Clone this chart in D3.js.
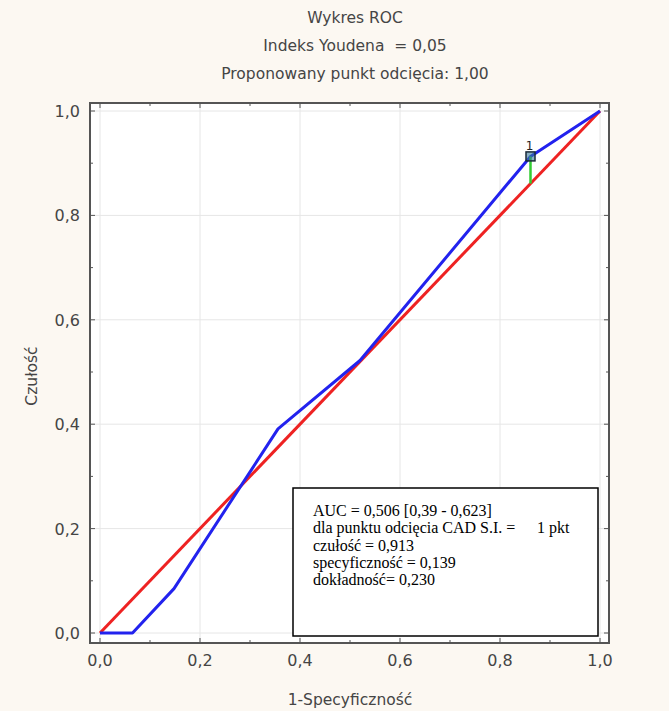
<!DOCTYPE html>
<html>
<head>
<meta charset="utf-8">
<script src="https://cdn.jsdelivr.net/npm/d3@7"></script>
<style>
  html, body { margin: 0; padding: 0; background: #fcf8f2; }
  svg { display: block; }
  svg text { white-space: pre; }
</style>
</head>
<body>
<svg id="chart" width="669" height="711"></svg>
<script>
// ROC curve points (1 - specificity, sensitivity)
const fpr = [0, 0.065, 0.148, 0.356, 0.52, 0.861, 1];
const tpr = [0, 0, 0.085, 0.391, 0.522, 0.913, 1];
// Reference diagonal
const diagX = [0, 1];
const diagY = [0, 1];
// Proposed cut-off point
const cutX = 0.861;
const cutY = 0.913;
const cutLabel = "1";
const tickValues = [0, 0.2, 0.4, 0.6, 0.8, 1.0];
const minorTicks = [0.1, 0.3, 0.5, 0.7, 0.9];
const titles = ["Wykres ROC", "Indeks Youdena  = 0,05", "Proponowany punkt odcięcia: 1,00"];
const statsLines = [
  "AUC = 0,506 [0,39 - 0,623]",
  "dla punktu odcięcia CAD S.I. =",
  "czułość = 0,913",
  "specyficzność = 0,139",
  "dokładność= 0,230"
];
const statsExtra = "1 pkt";

const svg = d3.select("#chart");
const fmt = d => d.toFixed(1).replace(".", ",");
const SANS = "DejaVu Sans, Verdana, sans-serif";
const SERIF = "Liberation Serif, Times New Roman, serif";
const LABEL = "#454545";

const x = d3.scaleLinear().domain([0, 1]).range([100, 600]);
const y = d3.scaleLinear().domain([0, 1]).range([633, 111]);
const frame = { x0: 90, x1: 609, y0: 103, y1: 643 };

// Titles
svg.selectAll("text.title").data(titles).join("text")
  .attr("class", "title")
  .attr("x", 355).attr("y", (d, i) => 23 + i * 28)
  .attr("text-anchor", "middle")
  .attr("font-family", SANS)
  .attr("font-size", 15.5).attr("fill", LABEL)
  .text(d => d);

// Plot area
svg.append("rect")
  .attr("x", frame.x0).attr("y", frame.y0)
  .attr("width", frame.x1 - frame.x0).attr("height", frame.y1 - frame.y0)
  .attr("fill", "#ffffff");

// Grid
const grid = svg.append("g").attr("stroke", "#e6e6e6").attr("stroke-width", 1);
grid.selectAll("line.v").data(tickValues).join("line")
  .attr("x1", d => x(d)).attr("x2", d => x(d))
  .attr("y1", frame.y0).attr("y2", frame.y1);
grid.selectAll("line.h").data(tickValues).join("line")
  .attr("y1", d => y(d)).attr("y2", d => y(d))
  .attr("x1", frame.x0).attr("x2", frame.x1);

// Frame
svg.append("rect")
  .attr("x", frame.x0).attr("y", frame.y0)
  .attr("width", frame.x1 - frame.x0).attr("height", frame.y1 - frame.y0)
  .attr("fill", "none").attr("stroke", "#555").attr("stroke-width", 2);

// Inward ticks on all four sides
const ticks = svg.append("g").attr("stroke", "#555");
[[tickValues, 5], [minorTicks, 3]].forEach(([vals, len]) => {
  ticks.append("g").selectAll("line").data(vals).join("line")
    .attr("x1", d => x(d)).attr("x2", d => x(d))
    .attr("y1", frame.y1).attr("y2", frame.y1 - len);
  ticks.append("g").selectAll("line").data(vals).join("line")
    .attr("x1", d => x(d)).attr("x2", d => x(d))
    .attr("y1", frame.y0).attr("y2", frame.y0 + len);
  ticks.append("g").selectAll("line").data(vals).join("line")
    .attr("y1", d => y(d)).attr("y2", d => y(d))
    .attr("x1", frame.x0).attr("x2", frame.x0 + len);
  ticks.append("g").selectAll("line").data(vals).join("line")
    .attr("y1", d => y(d)).attr("y2", d => y(d))
    .attr("x1", frame.x1).attr("x2", frame.x1 - len);
});

// Tick labels
svg.append("g").selectAll("text").data(tickValues).join("text")
  .attr("x", d => x(d)).attr("y", 666)
  .attr("text-anchor", "middle")
  .attr("font-family", SANS)
  .attr("font-size", 16).attr("fill", LABEL)
  .text(fmt);
svg.append("g").selectAll("text").data(tickValues).join("text")
  .attr("x", 80).attr("y", d => y(d) + 6)
  .attr("text-anchor", "end")
  .attr("font-family", SANS)
  .attr("font-size", 16).attr("fill", LABEL)
  .text(fmt);

// Axis titles
svg.append("text")
  .attr("x", 350).attr("y", 705)
  .attr("text-anchor", "middle")
  .attr("font-family", SANS)
  .attr("font-size", 15.5).attr("fill", LABEL)
  .text("1-Specyficzność");
svg.append("text")
  .attr("transform", "translate(37,376) rotate(-90)")
  .attr("text-anchor", "middle")
  .attr("font-family", SANS)
  .attr("font-size", 15.5).attr("fill", LABEL)
  .text("Czułość");

const line = d3.line().x(d => x(d[0])).y(d => y(d[1]));

// Diagonal reference line
svg.append("path")
  .datum(diagX.map((v, i) => [v, diagY[i]]))
  .attr("d", line).attr("fill", "none")
  .attr("stroke", "#ee2222").attr("stroke-width", 3);

// ROC curve
svg.append("path")
  .datum(fpr.map((v, i) => [v, tpr[i]]))
  .attr("d", line).attr("fill", "none")
  .attr("stroke", "#2222ee").attr("stroke-width", 3)
  .attr("stroke-linejoin", "round");

// Youden index segment from the cut-off point down to the diagonal
svg.append("line")
  .attr("x1", x(cutX)).attr("x2", x(cutX))
  .attr("y1", y(cutY)).attr("y2", y(cutX))
  .attr("stroke", "#33cc33").attr("stroke-width", 2.5);

// Cut-off marker and label
svg.append("rect")
  .attr("x", x(cutX) - 4.5).attr("y", y(cutY) - 4.5)
  .attr("width", 9).attr("height", 9)
  .attr("fill", "#3a7a9a").attr("fill-opacity", 0.6)
  .attr("stroke", "#1a2a3a").attr("stroke-width", 1.5);
svg.append("text")
  .attr("x", x(cutX) - 1).attr("y", y(cutY) - 6)
  .attr("text-anchor", "middle")
  .attr("font-family", SANS)
  .attr("font-size", 12).attr("fill", "#222")
  .text(cutLabel);

// Statistics box
svg.append("rect")
  .attr("x", 293).attr("y", 488).attr("width", 305).attr("height", 148)
  .attr("fill", "#ffffff").attr("stroke", "#000").attr("stroke-width", 1.5);
svg.append("g").selectAll("text").data(statsLines).join("text")
  .attr("x", 313).attr("y", (d, i) => 516 + i * 17.3)
  .attr("font-family", SERIF)
  .attr("font-size", 16).attr("fill", "#000")
  .text(d => d);
svg.append("text")
  .attr("x", 537).attr("y", 533.3)
  .attr("font-family", SERIF)
  .attr("font-size", 16).attr("fill", "#000")
  .text(statsExtra);
</script>
</body>
</html>
